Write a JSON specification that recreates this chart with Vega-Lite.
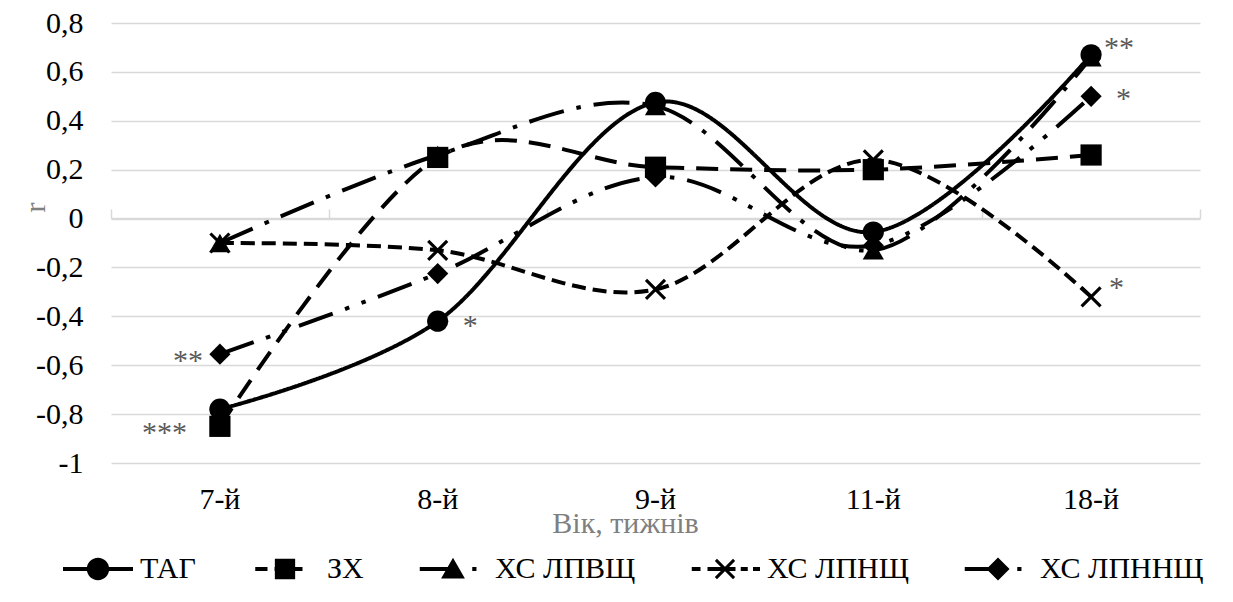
{
  "$schema": "https://vega.github.io/schema/vega-lite/v6.json",
  "width": 1089,
  "height": 440,
  "autosize": {"type": "none"},
  "padding": {"left": 111, "top": 23, "right": 33, "bottom": 139},
  "background": "white",
  "config": {
    "view": {"stroke": null},
    "font": "Liberation Serif, DejaVu Serif, Noto Serif, serif",
    "axisY": {
      "grid": true, "gridColor": "#d9d9d9", "gridWidth": 1.5,
      "domain": false, "ticks": false, "tickSize": 0,
      "labelPadding": 28, "labelFontSize": 30, "labelColor": "#000", "labelFont": "Liberation Serif, DejaVu Serif, Noto Serif, serif"
    }
  },
  "data": {
    "values": [
      {"week": "7-й", "series": "ТАГ", "r": -0.78, "sig": ""},
      {"week": "8-й", "series": "ТАГ", "r": -0.42, "sig": "*"},
      {"week": "9-й", "series": "ТАГ", "r": 0.475, "sig": ""},
      {"week": "11-й", "series": "ТАГ", "r": -0.055, "sig": ""},
      {"week": "18-й", "series": "ТАГ", "r": 0.67, "sig": "**"},
      {"week": "7-й", "series": "ЗХ", "r": -0.85, "sig": "***"},
      {"week": "8-й", "series": "ЗХ", "r": 0.25, "sig": ""},
      {"week": "9-й", "series": "ЗХ", "r": 0.21, "sig": ""},
      {"week": "11-й", "series": "ЗХ", "r": 0.2, "sig": ""},
      {"week": "18-й", "series": "ЗХ", "r": 0.26, "sig": ""},
      {"week": "7-й", "series": "ХС ЛПВЩ", "r": -0.1, "sig": ""},
      {"week": "8-й", "series": "ХС ЛПВЩ", "r": 0.26, "sig": ""},
      {"week": "9-й", "series": "ХС ЛПВЩ", "r": 0.46, "sig": ""},
      {"week": "11-й", "series": "ХС ЛПВЩ", "r": -0.13, "sig": ""},
      {"week": "18-й", "series": "ХС ЛПВЩ", "r": 0.66, "sig": ""},
      {"week": "7-й", "series": "ХС ЛПНЩ", "r": -0.1, "sig": ""},
      {"week": "8-й", "series": "ХС ЛПНЩ", "r": -0.13, "sig": ""},
      {"week": "9-й", "series": "ХС ЛПНЩ", "r": -0.29, "sig": ""},
      {"week": "11-й", "series": "ХС ЛПНЩ", "r": 0.24, "sig": ""},
      {"week": "18-й", "series": "ХС ЛПНЩ", "r": -0.32, "sig": "*"},
      {"week": "7-й", "series": "ХС ЛПННЩ", "r": -0.555, "sig": "**"},
      {"week": "8-й", "series": "ХС ЛПННЩ", "r": -0.225, "sig": ""},
      {"week": "9-й", "series": "ХС ЛПННЩ", "r": 0.17, "sig": ""},
      {"week": "11-й", "series": "ХС ЛПННЩ", "r": -0.11, "sig": ""},
      {"week": "18-й", "series": "ХС ЛПННЩ", "r": 0.5, "sig": "*"}
    ]
  },
  "layer": [
    {
      "mark": {"type": "line", "interpolate": "cardinal", "tension": 0, "strokeWidth": 4, "color": "black"},
      "encoding": {
        "x": {
          "field": "week", "type": "nominal",
          "sort": ["7-й", "8-й", "9-й", "11-й", "18-й"],
          "scale": {"type": "band", "paddingInner": 0, "paddingOuter": 0},
          "axis": {
            "orient": "bottom", "domain": false, "ticks": false, "tickSize": 0, "grid": false,
            "labelPadding": 21, "labelFontSize": 30, "labelAngle": 0, "labelColor": "#000", "labelFont": "Liberation Serif, DejaVu Serif, Noto Serif, serif",
            "title": "Вік, тижнів", "titleFontSize": 30, "titleFont": "Liberation Serif, DejaVu Serif, Noto Serif, serif", "titleColor": "#7f7f7f", "titleFontWeight": "normal",
            "titleX": 514, "titleY": 69, "titleBaseline": "alphabetic", "titleAlign": "center"
          }
        },
        "y": {
          "field": "r", "type": "quantitative",
          "scale": {"domain": [-1, 0.8], "nice": false, "zero": false},
          "axis": {
            "values": [-1, -0.8, -0.6, -0.4, -0.2, 0, 0.2, 0.4, 0.6, 0.8],
            "labelExpr": "replace(replace(format(datum.value, '.1~f'), '.', ','), '−', '-')",
            "title": "r", "titleFontSize": 30, "titleFont": "Liberation Serif, DejaVu Serif, Noto Serif, serif", "titleColor": "#7f7f7f", "titleFontWeight": "normal",
            "titleX": -76, "titleY": 184, "titleAngle": -90, "titleBaseline": "middle", "titleAlign": "center"
          }
        },
        "strokeDash": {
          "field": "series", "type": "nominal",
          "scale": {
            "domain": ["ТАГ", "ЗХ", "ХС ЛПВЩ", "ХС ЛПНЩ", "ХС ЛПННЩ"],
            "range": [[1, 0], [22, 12], [36, 13, 4.5, 13], [14, 7], [36, 13, 4.5, 13, 4.5, 13]]
          },
          "legend": null
        }
      }
    },
    {
      "mark": {"type": "point", "filled": true, "opacity": 1, "size": 450, "color": "black"},
      "encoding": {
        "x": {
          "field": "week", "type": "nominal",
          "sort": ["7-й", "8-й", "9-й", "11-й", "18-й"],
          "axis": {
            "orient": "top", "offset": -195, "labels": false, "title": null, "grid": false,
            "domain": true, "domainColor": "#d9d9d9", "domainWidth": 1.5,
            "ticks": true, "tickColor": "#d9d9d9", "tickWidth": 1.5, "tickSize": 9, "tickBand": "extent"
          }
        },
        "y": {"field": "r", "type": "quantitative"},
        "shape": {
          "field": "series", "type": "nominal",
          "scale": {
            "domain": ["ТАГ", "ЗХ", "ХС ЛПВЩ", "ХС ЛПНЩ", "ХС ЛПННЩ"],
            "range": ["circle", "square", "triangle-up", "M-0.79,-1L1,0.79L0.79,1L-1,-0.79ZM0.79,-1L1,-0.79L-0.79,1L-1,0.79Z", "diamond"]
          },
          "legend": null
        }
      }
    },
    {
      "transform": [{"filter": "datum.series == 'ЗХ' && datum.week == '7-й'"}],
      "mark": {"type": "text", "align": "right", "baseline": "alphabetic", "dx": -33, "dy": 16, "fontSize": 30, "font": "Liberation Serif, DejaVu Serif, Noto Serif, serif", "color": "#595959"},
      "encoding": {
        "x": {"field": "week", "type": "nominal", "sort": ["7-й", "8-й", "9-й", "11-й", "18-й"], "axis": null},
        "y": {"field": "r", "type": "quantitative"},
        "text": {"field": "sig"}
      }
    },
    {
      "transform": [{"filter": "datum.series == 'ХС ЛПННЩ' && datum.week == '7-й'"}],
      "mark": {"type": "text", "align": "right", "baseline": "alphabetic", "dx": -17, "dy": 16, "fontSize": 30, "font": "Liberation Serif, DejaVu Serif, Noto Serif, serif", "color": "#595959"},
      "encoding": {
        "x": {"field": "week", "type": "nominal", "sort": ["7-й", "8-й", "9-й", "11-й", "18-й"], "axis": null},
        "y": {"field": "r", "type": "quantitative"},
        "text": {"field": "sig"}
      }
    },
    {
      "transform": [{"filter": "datum.series == 'ТАГ' && datum.week == '8-й'"}],
      "mark": {"type": "text", "align": "left", "baseline": "alphabetic", "dx": 25, "dy": 14, "fontSize": 30, "font": "Liberation Serif, DejaVu Serif, Noto Serif, serif", "color": "#595959"},
      "encoding": {
        "x": {"field": "week", "type": "nominal", "sort": ["7-й", "8-й", "9-й", "11-й", "18-й"], "axis": null},
        "y": {"field": "r", "type": "quantitative"},
        "text": {"field": "sig"}
      }
    },
    {
      "transform": [{"filter": "datum.series == 'ТАГ' && datum.week == '18-й'"}],
      "mark": {"type": "text", "align": "left", "baseline": "alphabetic", "dx": 13, "dy": 2, "fontSize": 30, "font": "Liberation Serif, DejaVu Serif, Noto Serif, serif", "color": "#595959"},
      "encoding": {
        "x": {"field": "week", "type": "nominal", "sort": ["7-й", "8-й", "9-й", "11-й", "18-й"], "axis": null},
        "y": {"field": "r", "type": "quantitative"},
        "text": {"field": "sig"}
      }
    },
    {
      "transform": [{"filter": "datum.series == 'ХС ЛПННЩ' && datum.week == '18-й'"}],
      "mark": {"type": "text", "align": "left", "baseline": "alphabetic", "dx": 25, "dy": 12, "fontSize": 30, "font": "Liberation Serif, DejaVu Serif, Noto Serif, serif", "color": "#595959"},
      "encoding": {
        "x": {"field": "week", "type": "nominal", "sort": ["7-й", "8-й", "9-й", "11-й", "18-й"], "axis": null},
        "y": {"field": "r", "type": "quantitative"},
        "text": {"field": "sig"}
      }
    },
    {
      "transform": [{"filter": "datum.series == 'ХС ЛПНЩ' && datum.week == '18-й'"}],
      "mark": {"type": "text", "align": "left", "baseline": "alphabetic", "dx": 18, "dy": 0, "fontSize": 30, "font": "Liberation Serif, DejaVu Serif, Noto Serif, serif", "color": "#595959"},
      "encoding": {
        "x": {"field": "week", "type": "nominal", "sort": ["7-й", "8-й", "9-й", "11-й", "18-й"], "axis": null},
        "y": {"field": "r", "type": "quantitative"},
        "text": {"field": "sig"}
      }
    },
    {
      "transform": [{"filter": "false"}],
      "mark": {"type": "point", "filled": true, "opacity": 1, "color": "black"},
      "encoding": {
        "shape": {
          "field": "series", "type": "nominal",
          "scale": {
            "domain": ["ТАГ", "ЗХ", "ХС ЛПВЩ", "ХС ЛПНЩ", "ХС ЛПННЩ"],
            "range": [
              "M-1,-0.06H1V0.06H-1ZM0.32,0A0.32,0.32,0,1,1,-0.32,0A0.32,0.32,0,1,1,0.32,0Z",
              "M-0.85,-0.06H-0.5V0.06H-0.85ZM-0.3,-0.06H0.5V0.06H-0.3ZM-0.29,-0.29H0.29V0.29H-0.29Z",
              "M-0.95,-0.06H0V0.06H-0.95ZM0,-0.32L0.34,0.27H-0.34ZM0.55,-0.06H0.67V0.06H0.55Z",
              "M-0.95,-0.06H-0.7V0.06H-0.95ZM-0.5,-0.06H0.3V0.06H-0.5ZM0.45,-0.06H0.65V0.06H0.45ZM0.8,-0.06H1V0.06H0.8ZM-0.23,-0.29L0.29,0.23L0.23,0.29L-0.29,-0.23ZM0.23,-0.29L0.29,-0.23L-0.23,0.29L-0.29,0.23Z",
              "M-0.95,-0.06H0V0.06H-0.95ZM0,-0.33L0.33,0L0,0.33L-0.33,0ZM0.55,-0.06H0.67V0.06H0.55Z"
            ]
          },
          "legend": {
            "title": null, "orient": "none", "legendX": -48, "legendY": 511,
            "direction": "horizontal", "columns": 5, "padding": 0,
            "symbolSize": 4900, "symbolStrokeWidth": 0, "symbolFillColor": "black", "symbolOpacity": 1,
            "labelFontSize": 30, "labelFont": "Liberation Serif, DejaVu Serif, Noto Serif, serif", "labelColor": "#000", "labelOffset": 7,
            "columnPadding": 54, "labelLimit": 400
          }
        }
      }
    }
  ],
  "resolve": {"scale": {"shape": "independent"}, "axis": {"x": "independent"}}
}
